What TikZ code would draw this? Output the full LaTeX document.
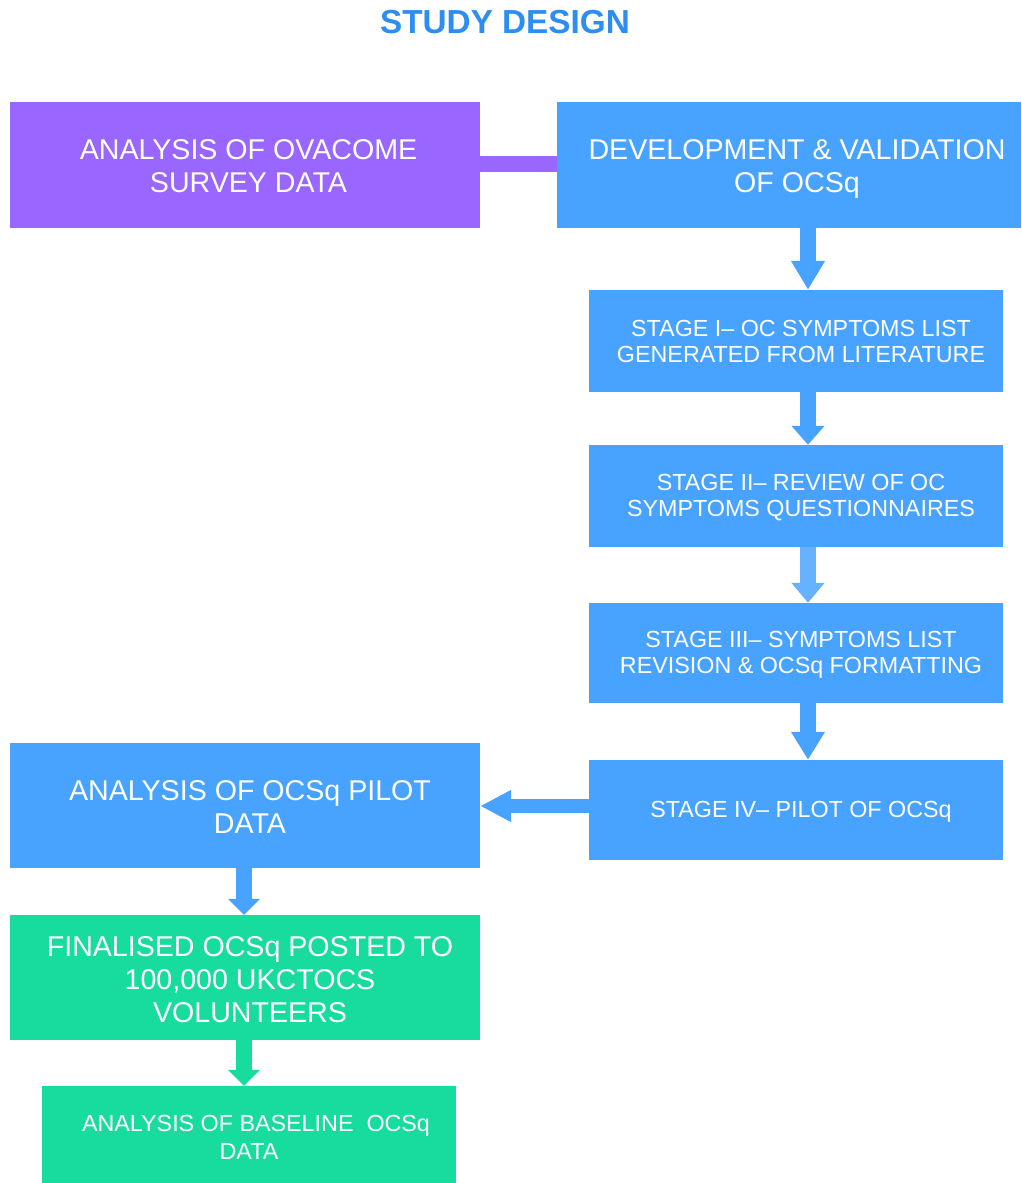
\documentclass[tikz,border=0pt]{standalone}
\usepackage{fontspec}
\setmainfont{Liberation Sans}
\usetikzlibrary{arrows.meta}
\definecolor{boxblue}{HTML}{47A3FF}
\definecolor{lightblue}{HTML}{66B2FF}
\definecolor{boxpurple}{HTML}{9966FF}
\definecolor{boxgreen}{HTML}{18DC9E}
\definecolor{titleblue}{HTML}{2C8DF2}
\tikzset{
  box/.style={rectangle, inner sep=0pt, draw=none},
  txt/.style={inner sep=0pt, text=white, align=center, xshift=5pt, yshift=-2pt},
  bigtxt/.style={txt, font=\fontsize{28.6}{33}\selectfont},
  smalltxt/.style={txt, font=\fontsize{23.3}{26}\selectfont},
  blk/.style={line width=16pt, draw=boxblue},
}
\begin{document}
\begin{tikzpicture}[x=1pt,y=-1pt]
\useasboundingbox (0,0) rectangle (1021,1183);
\fill[white] (0,0) rectangle (1021,1183);

\node[text=titleblue, font=\bfseries\fontsize{33.3}{38}\selectfont] (title) at (505,22) {STUDY DESIGN};

% boxes
\node[box, fill=boxpurple, minimum width=470pt, minimum height=126pt] (ova) at (245,165) {};
\node[box, fill=boxblue, minimum width=464pt, minimum height=126pt] (dev) at (789,165) {};
\node[box, fill=boxblue, minimum width=414pt, minimum height=102pt] (s1) at (796,341) {};
\node[box, fill=boxblue, minimum width=414pt, minimum height=102pt] (s2) at (796,496) {};
\node[box, fill=boxblue, minimum width=414pt, minimum height=100pt] (s3) at (796,653) {};
\node[box, fill=boxblue, minimum width=414pt, minimum height=100pt] (s4) at (796,810) {};
\node[box, fill=boxblue, minimum width=470pt, minimum height=125pt] (pilot) at (245,805.5) {};
\node[box, fill=boxgreen, minimum width=470pt, minimum height=125pt] (fin) at (245,977.5) {};
\node[box, fill=boxgreen, minimum width=414pt, minimum height=97pt] (base) at (249,1134.5) {};

% texts
\node[bigtxt, xshift=-1.5pt, yshift=1pt] (ovat) at (ova.center) {ANALYSIS OF OVACOME\\SURVEY DATA};
\node[bigtxt, xshift=3pt, yshift=-2pt] (devt) at (dev.center) {DEVELOPMENT \& VALIDATION\\OF OCSq};
\node[smalltxt, yshift=2pt] (s1t) at (s1.center) {STAGE I– OC SYMPTOMS LIST\\GENERATED FROM LITERATURE};
\node[smalltxt] (s2t) at (s2.center) {STAGE II– REVIEW OF OC\\SYMPTOMS QUESTIONNAIRES};
\node[smalltxt] (s3t) at (s3.center) {STAGE III– SYMPTOMS LIST\\REVISION \& OCSq FORMATTING};
\node[smalltxt] (s4t) at (s4.center) {STAGE IV– PILOT OF OCSq};
\node[bigtxt] (pilott) at (pilot.center) {ANALYSIS OF OCSq PILOT\\DATA};
\node[bigtxt] (fint) at (fin.center) {FINALISED OCSq POSTED TO\\100,000 UKCTOCS\\VOLUNTEERS};
\node[txt, font=\fontsize{23.3}{28}\selectfont, xshift=-5pt, yshift=-1pt] (baset) at (base.center) {\hspace*{14pt}ANALYSIS OF BASELINE\ \ OCSq\\DATA};

\coordinate (ax) at (808,0);
\coordinate (bx) at (244,0);
\coordinate (ay) at (0,806);

% connector purple
\draw[line width=16pt, draw=boxpurple] (ova.east |- 0,164) -- (dev.west |- 0,164);

% right column arrows
\draw[blk, -{Triangle[width=32pt,length=29pt]}] (dev.south -| ax) -- (s1.north -| ax);
\draw[blk, -{Triangle[width=32pt,length=19pt]}] (s1.south -| ax) -- (s2.north -| ax);
\draw[blk, draw=lightblue, -{Triangle[width=32pt,length=20pt]}] (s2.south -| ax) -- (s3.north -| ax);
\draw[blk, -{Triangle[width=32pt,length=28pt]}] (s3.south -| ax) -- (s4.north -| ax);

% left arrow
\draw[line width=14pt, draw=boxblue, -{Triangle[width=30pt,length=31pt]}] (s4.west |- ay) -- (pilot.east |- ay);

% left column arrows
\draw[blk, -{Triangle[width=31pt,length=16pt]}] (pilot.south -| bx) -- (fin.north -| bx);
\draw[blk, draw=boxgreen, -{Triangle[width=31pt,length=16pt]}] (fin.south -| bx) -- (base.north -| bx);
\end{tikzpicture}
\end{document}
